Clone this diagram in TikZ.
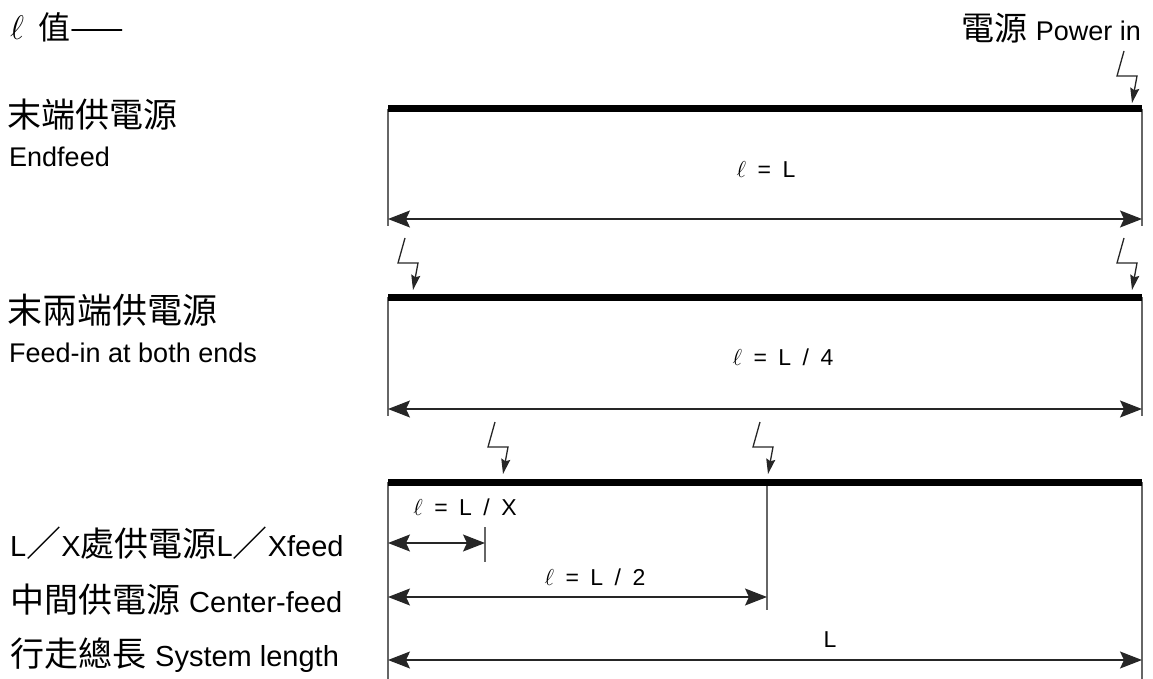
\RequirePackage{fix-cm}
\documentclass[tikz,border=0pt]{standalone}
\usepackage{fontspec}
\setmainfont{Liberation Sans}
\newfontfamily\cjk{Noto Sans CJK TC}
\usetikzlibrary{arrows.meta}
\newcommand{\zh}[1]{{\cjk\fontsize{34}{40}\selectfont #1}}
\newcommand{\en}[1]{{\fontsize{27}{32}\selectfont #1}}
\newcommand{\enb}[1]{{\fontsize{29}{34}\selectfont #1}}
\newcommand{\ellv}[1]{{\fontsize{23}{27}\selectfont$\ell$\enspace=\enspace #1}}
\tikzset{
  bar/.style={line width=7pt, line cap=butt},
  guide/.style={line width=1.3pt, black!60},
  bigtip/.tip={Stealth[length=22pt,width=17pt,inset=4pt]},
  dim/.style={line width=1.2pt, black!85, bigtip-bigtip},
  boltline/.style={line width=1.3pt, black!85, -{Stealth[length=15pt,width=9pt,inset=2pt]}},
  pics/bolt/.style={code={\draw[boltline] (-8,-52) -- (-15,-27) -- (5,-27) -- (0,0);}},
  lbl/.style={anchor=west, inner sep=0pt},
  mid/.style={inner sep=0pt}
}
\begin{document}
\begin{tikzpicture}[x=1pt,y=-1pt]
\useasboundingbox (0,0) rectangle (1153,679);
% headings
\node[lbl] (head) at (10,27) {{\fontsize{34}{38}\selectfont$\ell$}\hspace{14pt}{\cjk\fontsize{32}{36}\selectfont 值——}};
\node[inner sep=0pt, anchor=east] (power) at (1141,28) {{\cjk\fontsize{33}{36}\selectfont 電源}\hspace{8pt}\en{Power in}};
% left labels
\node[lbl] (t1a) at (7,115) {\zh{末端供電源}};
\node[lbl] (t1b) at (9,157) {\en{Endfeed}};
\node[lbl] (t2a) at (7,310) {{\cjk\fontsize{35}{40}\selectfont 末兩端供電源}};
\node[lbl] (t2b) at (9,353) {\en{Feed-in at both ends}};
\node[lbl] (t3) at (10,543) {\enb{L}{\cjk\fontsize{35}{40}\selectfont ／}\enb{X}\zh{處供電源}\enb{L}{\cjk\fontsize{35}{40}\selectfont ／}\enb{Xfeed}};
\node[lbl] (t4) at (10,600) {\zh{中間供電源}\hspace{9pt}\enb{Center-feed}};
\node[lbl] (t5) at (10,655) {\zh{行走總長}\hspace{9pt}\enb{System length}};

% ---------- row 1
\coordinate (b1L) at (388,109);
\coordinate (b1R) at (1142,109);
\coordinate (g1L) at (388,226);
\coordinate (g1R) at (1142,226);
\coordinate (a1L) at (388,219);
\coordinate (a1R) at (1142,219);
\draw[guide] (b1L) -- (g1L);
\draw[guide] (b1R) -- (g1R);
\draw[bar] (b1L) -- (b1R);
\draw[dim] (a1L) -- (a1R);
\node[mid] (l1) at (766,170) {\ellv{L}};
\pic at (1132,103) {bolt};

% ---------- row 2
\coordinate (b2L) at (388,297);
\coordinate (b2R) at (1142,297);
\coordinate (g2L) at (388,416);
\coordinate (g2R) at (1142,416);
\coordinate (a2L) at (388,409);
\coordinate (a2R) at (1142,409);
\draw[guide] (b2L) -- (g2L);
\draw[guide] (b2R) -- (g2R);
\draw[bar] (b2L) -- (b2R);
\draw[dim] (a2L) -- (a2R);
\node[mid] (l2) at (783,357) {\ellv{L\enspace/\enspace4}};
\pic at (413,290) {bolt};
\pic at (1132,290) {bolt};

% ---------- row 3
\coordinate (b3L) at (388,482);
\coordinate (b3R) at (1142,482);
\coordinate (b3M) at (767,482);
\coordinate (g3L) at (388,679);
\coordinate (g3R) at (1142,679);
\coordinate (g3M) at (767,610);
\coordinate (xT) at (485,527);
\coordinate (xB) at (485,562);
\draw[guide] (b3L) -- (g3L);
\draw[guide] (b3R) -- (g3R);
\draw[guide] (b3M) -- (g3M);
\draw[guide] (xT) -- (xB);
\draw[bar] (b3L) -- (b3R);
\coordinate (axL) at (388,543);
\coordinate (axR) at (485,543);
\coordinate (amL) at (388,597);
\coordinate (amR) at (767,597);
\coordinate (asL) at (388,660);
\coordinate (asR) at (1142,660);
\draw[dim] (axL) -- (axR);
\draw[dim] (amL) -- (amR);
\draw[dim] (asL) -- (asR);
\node[mid] (lx) at (465,507) {\ellv{L\enspace/\enspace X}};
\node[mid] (lm) at (595,577) {\ellv{L\enspace/\enspace2}};
\node[mid] (ls) at (830,640) {{\fontsize{23}{27}\selectfont L}};
\pic at (503,474) {bolt};
\pic at (768,474) {bolt};
\end{tikzpicture}
\end{document}
